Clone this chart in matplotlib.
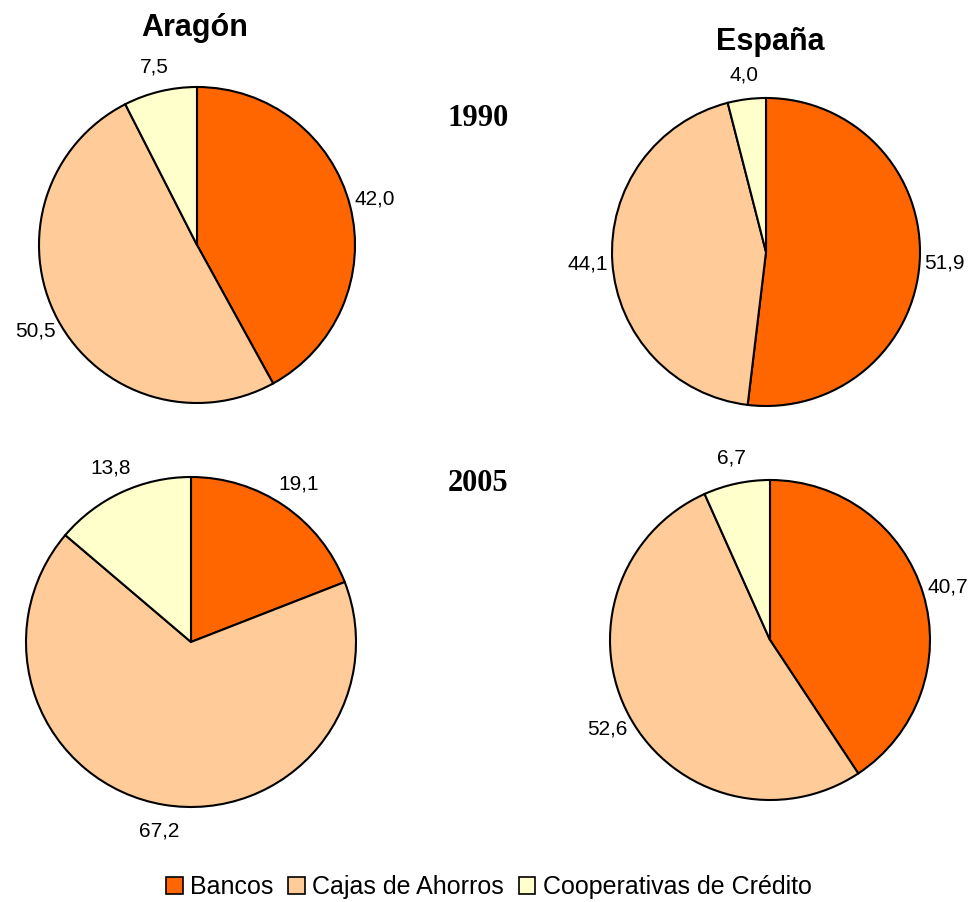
import matplotlib
matplotlib.use("Agg")
import matplotlib.pyplot as plt
from matplotlib.patches import Patch

categories = ['Bancos', 'Cajas de Ahorros', 'Cooperativas de Crédito']
colors = ['#FF6600', '#FFCC99', '#FFFFCC']

aragon_1990 = [42.0, 50.5, 7.5]
espana_1990 = [51.9, 44.1, 4.0]
aragon_2005 = [19.1, 67.2, 13.8]
espana_2005 = [40.7, 52.6, 6.7]

plt.rcParams['font.family'] = ['Liberation Sans', 'DejaVu Sans']

W, H = 977, 902
fig = plt.figure(figsize=(W / 100, H / 100), dpi=100)

# (values, centre x, centre y, radius) in pixels from top-left
pies = [
    (aragon_1990, 197, 245, 158),
    (espana_1990, 766, 252, 154),
    (aragon_2005, 191, 642, 165),
    (espana_2005, 770, 640, 160),
]

lim = 1.5
for vals, cx, cy, r in pies:
    size = 2 * lim * r
    ax = fig.add_axes([(cx - size / 2) / W, 1 - (cy + size / 2) / H, size / W, size / H])
    labels = [f'{v:.1f}'.replace('.', ',') for v in vals]
    wedges, texts = ax.pie(vals, labels=labels, colors=colors, startangle=90,
                           counterclock=False, labeldistance=1.16,
                           wedgeprops=dict(edgecolor='black', linewidth=1.5),
                           textprops=dict(fontsize=15))
    for t in texts:
        t.set_ha('center')
        t.set_va('center')
    ax.set_xlim(-lim, lim)
    ax.set_ylim(-lim, lim)
    ax.set_aspect('equal')

fig.text(195 / W, 1 - 28 / H, 'Aragón', fontsize=22, fontweight='bold', ha='center', va='center')
fig.text(770 / W, 1 - 42 / H, 'España', fontsize=22, fontweight='bold', ha='center', va='center')
fig.text(478 / W, 1 - 118 / H, '1990', fontsize=22, fontweight='bold', ha='center', va='center',
         family='Liberation Serif')
fig.text(478 / W, 1 - 483 / H, '2005', fontsize=22, fontweight='bold', ha='center', va='center',
         family='Liberation Serif')

handles = [Patch(facecolor=c, edgecolor='black', linewidth=1.2) for c in colors]
fig.legend(handles, categories, loc='center', bbox_to_anchor=(489 / W, 1 - 887 / H),
           ncol=3, frameon=False, fontsize=18, handlelength=0.65, handleheight=0.65,
           handletextpad=0.3, columnspacing=0.6)

fig.savefig('out.png', dpi=100)
